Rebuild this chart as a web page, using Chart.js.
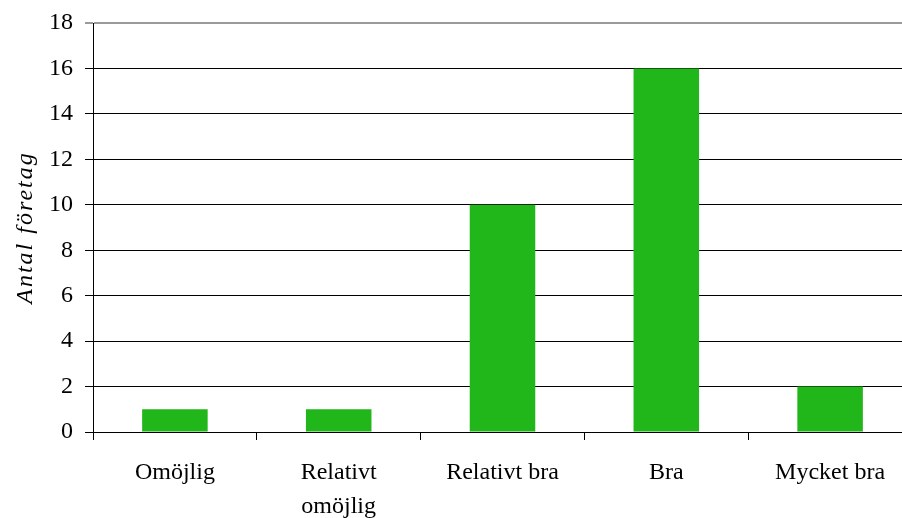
<!DOCTYPE html>
<html lang="sv">
<head>
    <meta charset="UTF-8">
    <title>Antal företag</title>
    <script src="https://cdn.jsdelivr.net/npm/chart.js"></script>
    <style>
        html, body {
            margin: 0;
            padding: 0;
            background: #ffffff;
            overflow: hidden;
        }
        /* plot runs a little past the right edge of the window, like the original */
        .wrap {
            position: relative;
            width: 920px;
            height: 518px;
        }
    </style>
</head>
<body>

<div class="wrap">
    <canvas id="chart"></canvas>
</div>

<script>
    // data
    const categories = ['Omöjlig', ['Relativt', 'omöjlig'], 'Relativt bra', 'Bra', 'Mycket bra'];
    const counts = [1, 1, 10, 16, 2];
    const yTicks = [0, 2, 4, 6, 8, 10, 12, 14, 16, 18];
    const yTitle = 'Antal företag';

    const serif = "'Liberation Serif', 'Times New Roman', serif";

    // spaced-out italic axis title
    const titleSpacing = {
        id: 'titleSpacing',
        afterLayout(chart) {
            const y = chart.scales.y;
            if (y._spaced) return;
            const orig = y.drawTitle.bind(y);
            y.drawTitle = function () {
                const ctx = this.ctx;
                ctx.save();
                ctx.letterSpacing = '2px';
                orig();
                ctx.restore();
            };
            y._spaced = true;
        }
    };

    new Chart(document.getElementById('chart'), {
        type: 'bar',
        data: {
            labels: categories,
            datasets: [{
                data: counts,
                backgroundColor: '#21b619',
                borderWidth: 0,
                barPercentage: 0.4,
                categoryPercentage: 1.0
            }]
        },
        options: {
            responsive: true,
            maintainAspectRatio: false,
            animation: false,
            layout: { padding: { top: 23, right: 8, left: 0, bottom: 0 } },
            plugins: {
                legend: { display: false },
                tooltip: { enabled: false }
            },
            scales: {
                x: {
                    afterFit(scale) { scale.height = 86; },
                    grid: {
                        offset: true,
                        drawOnChartArea: false,
                        tickLength: 8,
                        color: '#000'
                    },
                    border: { color: '#000', width: 1 },
                    ticks: {
                        color: '#000',
                        padding: 15,
                        maxRotation: 0,
                        autoSkip: false,
                        font: { family: serif, size: 24, lineHeight: 1.45 }
                    }
                },
                y: {
                    min: 0,
                    max: 18,
                    afterFit(scale) {
                        scale.width = 93;
                        scale.paddingTop = 0;
                        scale.paddingBottom = 0;
                    },
                    afterBuildTicks(scale) {
                        scale.ticks = yTicks.map(v => ({ value: v }));
                    },
                    grid: {
                        tickLength: 8,
                        color: ctx => ctx.tick && ctx.tick.value === 18 ? '#9a9a9a' : '#000',
                        lineWidth: ctx => ctx.tick && ctx.tick.value === 18 ? 2 : 1
                    },
                    border: { color: '#000', width: 1 },
                    ticks: {
                        color: '#000',
                        padding: 12,
                        font: { family: serif, size: 24 }
                    },
                    title: {
                        display: true,
                        text: yTitle,
                        color: '#000',
                        padding: { top: 11, bottom: 0 },
                        font: { family: serif, size: 24, style: 'italic' }
                    }
                }
            }
        },
        plugins: [titleSpacing]
    });
</script>

</body>
</html>
